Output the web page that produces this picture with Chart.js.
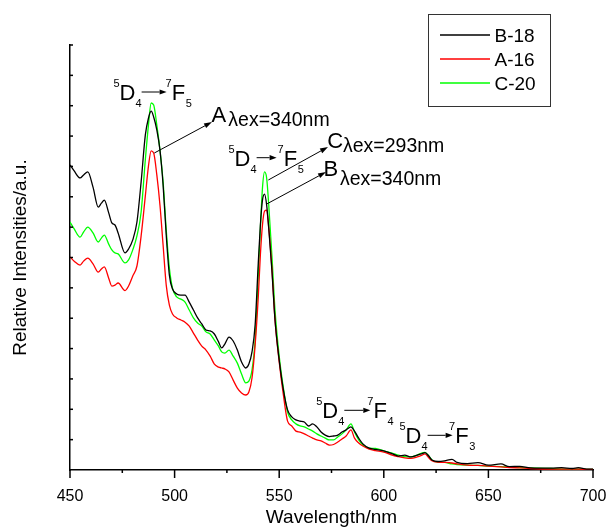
<!DOCTYPE html>
<html>
<head>
<meta charset="utf-8">
<title>Emission spectra</title>
<script src="https://cdn.jsdelivr.net/npm/chart.js@4.4.0/dist/chart.umd.min.js"></script>
<style>
  html, body { margin: 0; padding: 0; background: #fff; }
  #wrap { width: 608px; height: 529px; }
</style>
</head>
<body>
<div id="wrap"><canvas id="spectrum" width="608" height="529"></canvas></div>
<script>
(function() {
  'use strict';

  var FONT = "'Liberation Sans', Arial, Helvetica, sans-serif";

  var wavelengths = [450, 452, 454.8, 456.5, 458.5, 461, 463.5, 465, 466.4, 468.5, 470, 471.5, 473, 476.3, 478, 480, 482,
    484, 486, 487.5, 488.8, 490,
    491.5, 493, 494.5, 496, 497.5, 499,
    501, 503, 505, 507, 509, 511, 513, 515, 517, 519, 521,
    522.5, 524, 526, 528, 530, 532, 534, 535.5, 537, 538.5,
    540, 541, 542, 543, 544, 545, 546.5, 548,
    550, 552, 554, 556, 558, 560, 562, 564, 566, 568, 570, 572, 574, 576, 578, 580, 582, 584.3, 586, 588, 590,
    593, 596, 600, 604, 607, 610, 613, 616, 618, 619.7, 621.5, 623, 626, 629, 632.6, 635, 640, 645, 650, 656, 660, 665, 670, 680, 685, 690, 693, 697, 700];

  var b18 = [10.05, 9.85, 9.62, 9.72, 9.82, 9.32, 8.66, 8.79, 8.89, 8.47, 8.14, 8.07, 7.81, 7.15, 7.28, 7.58, 8.17,
    9.49, 11.03, 11.59, 11.82, 11.63,
    11.20, 10.54, 9.39, 7.74, 6.42, 5.96,
    5.80, 5.76, 5.76, 5.53, 5.27, 5.01, 4.81, 4.61, 4.58, 4.48, 4.22,
    4.02, 4.15, 4.38, 4.25, 3.95, 3.56, 3.36, 3.49, 3.89, 4.78,
    6.82, 8.07, 8.89, 9.09, 8.73, 7.97, 6.59, 4.94,
    3.62, 2.64, 1.98, 1.75, 1.65, 1.61, 1.58, 1.45, 1.52, 1.42, 1.25, 1.15, 1.10, 1.12, 1.15, 1.25, 1.32, 1.42, 1.28, 1.05, 0.86,
    0.72, 0.68, 0.63, 0.54, 0.46, 0.49, 0.43, 0.49, 0.53, 0.57, 0.46, 0.33, 0.28, 0.30, 0.35, 0.25, 0.21, 0.24, 0.16, 0.20, 0.11, 0.12, 0.07, 0.06, 0.08, 0.05, 0.08, 0.03, 0.03];

  var a16 = [7.02, 6.88, 6.75, 6.88, 6.98, 6.79, 6.52, 6.62, 6.69, 6.32, 6.06, 6.09, 6.16, 5.91, 6.06, 6.39, 6.72,
    7.71, 9.02, 10.01, 10.51, 10.44,
    9.72, 8.73, 7.41, 6.09, 5.43, 5.14,
    5.01, 4.94, 4.87, 4.74, 4.51, 4.28, 4.08, 3.95, 3.75, 3.49, 3.39,
    3.36, 3.33, 3.23, 2.96, 2.70, 2.54, 2.47, 2.57, 3.03, 4.12,
    5.70, 7.08, 8.07, 8.53, 8.56, 7.97, 6.65, 4.94,
    3.56, 2.47, 1.61, 1.45, 1.28, 1.25, 1.19, 1.12, 1.05, 0.99, 0.96, 0.89, 0.82, 0.84, 0.92, 1.02, 1.12, 1.32, 1.05, 0.89, 0.79,
    0.69, 0.64, 0.59, 0.49, 0.44, 0.40, 0.38, 0.43, 0.48, 0.53, 0.40, 0.31, 0.26, 0.25, 0.23, 0.20, 0.16, 0.15, 0.13, 0.10, 0.08, 0.07, 0.05, 0.03, 0.03, 0.03, 0.03, 0.02, 0.02];

  var c20 = [8.17, 7.94, 7.67, 7.84, 8.00, 7.81, 7.51, 7.64, 7.74, 7.44, 7.25, 7.15, 7.12, 6.82, 6.92, 7.25, 7.71,
    8.50, 10.21, 11.36, 12.09, 12.02,
    11.36, 10.54, 9.49, 7.91, 6.65, 5.99,
    5.70, 5.63, 5.53, 5.27, 5.01, 4.84, 4.74, 4.55, 4.48, 4.28, 4.08,
    3.89, 3.85, 3.95, 3.75, 3.52, 3.16, 2.87, 2.93, 3.29, 4.28,
    6.42, 7.97, 9.29, 9.82, 9.62, 8.73, 7.08, 5.27,
    3.75, 2.70, 1.91, 1.65, 1.52, 1.45, 1.42, 1.35, 1.28, 1.19, 1.12, 1.05, 0.99, 0.99, 1.09, 1.19, 1.32, 1.52, 1.25, 0.99, 0.82,
    0.72, 0.71, 0.63, 0.56, 0.49, 0.44, 0.43, 0.49, 0.56, 0.58, 0.46, 0.33, 0.26, 0.25, 0.20, 0.18, 0.16, 0.15, 0.13, 0.11, 0.10, 0.08, 0.07, 0.05, 0.03, 0.03, 0.03, 0.02, 0.02];

  var seriesNames = ['B-18', 'A-16', 'C-20'];
  var seriesColors = ['#000000', '#ff0000', '#00ff00'];
  var xTicks = [450, 500, 550, 600, 650, 700];

  function toPoints(values) {
    return wavelengths.map(function(w, i) { return {x: w, y: values[i]}; });
  }

  function arrow(ctx, x1, y1, x2, y2, head) {
    var a = Math.atan2(y2 - y1, x2 - x1);
    var bx = x2 - head * Math.cos(a), by = y2 - head * Math.sin(a);
    ctx.beginPath();
    ctx.moveTo(x1, y1);
    ctx.lineTo(bx, by);
    ctx.stroke();
    ctx.beginPath();
    ctx.moveTo(x2, y2);
    ctx.lineTo(bx + 2.6 * Math.sin(a), by - 2.6 * Math.cos(a));
    ctx.lineTo(bx - 2.6 * Math.sin(a), by + 2.6 * Math.cos(a));
    ctx.closePath();
    ctx.fill();
  }

  // 5D4 -> 7Fn label with super/subscripts
  function term(ctx, x, y, lower, upper, arrowLen, gap) {
    var small = '11px ' + FONT, big = '22px ' + FONT;
    ctx.font = small; ctx.fillText(lower[0], x, y - 13); x += ctx.measureText(lower[0]).width;
    ctx.font = big; ctx.fillText(lower[1], x, y); x += ctx.measureText(lower[1]).width;
    ctx.font = small; ctx.fillText(lower[2], x, y + 7); x += ctx.measureText(lower[2]).width;
    arrow(ctx, x, y - 8, x + arrowLen, y - 8, 7);
    x += arrowLen + gap;
    ctx.font = small; ctx.fillText(upper[0], x, y - 13); x += ctx.measureText(upper[0]).width;
    ctx.font = big; ctx.fillText(upper[1], x, y); x += ctx.measureText(upper[1]).width;
    ctx.font = small; ctx.fillText(upper[2], x + 0.5, y + 7);
  }

  var decorations = {
    id: 'decorations',
    afterDraw: function(chart) {
      var ctx = chart.ctx;
      var xs = chart.scales.x, ys = chart.scales.y;
      var area = chart.chartArea;
      var i, p;

      ctx.save();
      ctx.strokeStyle = '#000';
      ctx.fillStyle = '#000';
      ctx.lineWidth = 1.5;

      // tick marks: x outward, y inward
      for (i = 0; i < xTicks.length; i++) {
        p = xs.getPixelForValue(xTicks[i]);
        ctx.beginPath(); ctx.moveTo(p, area.bottom); ctx.lineTo(p, area.bottom + 8); ctx.stroke();
        if (i < xTicks.length - 1) {
          p = xs.getPixelForValue((xTicks[i] + xTicks[i + 1]) / 2);
          ctx.beginPath(); ctx.moveTo(p, area.bottom); ctx.lineTo(p, area.bottom + 3); ctx.stroke();
        }
      }
      for (i = 1; i <= ys.max; i++) {
        p = ys.getPixelForValue(i);
        ctx.beginPath(); ctx.moveTo(area.left, p); ctx.lineTo(area.left + 3, p); ctx.stroke();
      }

      // legend box
      ctx.lineWidth = 1;
      ctx.strokeStyle = '#333';
      ctx.strokeRect(428.5, 14.5, 122, 92);
      ctx.font = '19px ' + FONT;
      ctx.textBaseline = 'alphabetic';
      chart.data.datasets.forEach(function(ds, k) {
        var ly = 35 + k * 24;
        ctx.strokeStyle = ds.borderColor;
        ctx.lineWidth = 1.5;
        ctx.beginPath(); ctx.moveTo(440, ly); ctx.lineTo(490, ly); ctx.stroke();
        ctx.fillStyle = '#000';
        ctx.fillText(ds.label, 494.5, ly + 6.7);
      });

      // transition labels
      ctx.strokeStyle = '#000';
      ctx.fillStyle = '#000';
      ctx.lineWidth = 1;
      term(ctx, 113.5, 100, ['5', 'D', '4'], ['7', 'F', '5'], 25, -1);
      term(ctx, 228.5, 165.7, ['5', 'D', '4'], ['7', 'F', '5'], 20, 1);
      term(ctx, 316.2, 418.3, ['5', 'D', '4'], ['7', 'F', '4'], 26, -3);
      term(ctx, 399.5, 443.3, ['5', 'D', '4'], ['7', 'F', '3'], 25, -3.5);

      // excitation pointers
      arrow(ctx, 154.3, 153, 212, 122, 8);
      arrow(ctx, 268.3, 180, 328, 147, 8);
      arrow(ctx, 266.7, 204, 326, 172, 8);
      ctx.font = '22px ' + FONT;
      ctx.fillText('A', 211.5, 121.7);
      ctx.fillText('C', 327.3, 148.3);
      ctx.fillText('B', 323.4, 175.7);
      ctx.font = '19.5px ' + FONT;
      ctx.fillText('\u03bbex=340nm', 228.3, 125.7);
      ctx.fillText('\u03bbex=293nm', 343, 152.3);
      ctx.fillText('\u03bbex=340nm', 340, 185);
      ctx.restore();
    }
  };

  var ctx = document.getElementById('spectrum');

  new Chart(ctx, {
    type: 'line',
    data: {
      datasets: [
        {label: seriesNames[0], data: toPoints(b18), borderColor: seriesColors[0]},
        {label: seriesNames[1], data: toPoints(a16), borderColor: seriesColors[1]},
        {label: seriesNames[2], data: toPoints(c20), borderColor: seriesColors[2]}
      ]
    },
    options: {
      responsive: false,
      animation: false,
      devicePixelRatio: 1,
      layout: {padding: {top: 45, right: 15, left: 0, bottom: 0}},
      elements: {
        point: {radius: 0},
        line: {borderWidth: 1.3, cubicInterpolationMode: 'monotone', fill: false}
      },
      plugins: {
        legend: {display: false},
        tooltip: {enabled: false}
      },
      scales: {
        x: {
          type: 'linear',
          min: 450,
          max: 700,
          afterFit: function(scale) {
            scale.height = 59;
            scale.paddingLeft = 0;
            scale.paddingRight = 0;
          },
          afterBuildTicks: function(scale) {
            scale.ticks = xTicks.map(function(v) { return {value: v}; });
          },
          grid: {display: false},
          border: {display: true, color: '#000', width: 1.5},
          ticks: {color: '#000', padding: 9, maxRotation: 0, font: {family: FONT, size: 16}},
          title: {
            display: true,
            text: 'Wavelength/nm',
            color: '#000',
            padding: {top: 0, bottom: 1.5},
            font: {family: FONT, size: 19, lineHeight: 1}
          }
        },
        y: {
          min: 0,
          max: 14,
          afterFit: function(scale) { scale.width = 70; },
          grid: {display: false},
          border: {display: true, color: '#000', width: 1.5},
          ticks: {display: false, stepSize: 1},
          title: {
            display: true,
            text: 'Relative Intensities/a.u.',
            color: '#000',
            padding: {top: 11, bottom: 0},
            font: {family: FONT, size: 19, lineHeight: 1}
          }
        }
      }
    },
    plugins: [decorations]
  });

}());
</script>
</body>
</html>
